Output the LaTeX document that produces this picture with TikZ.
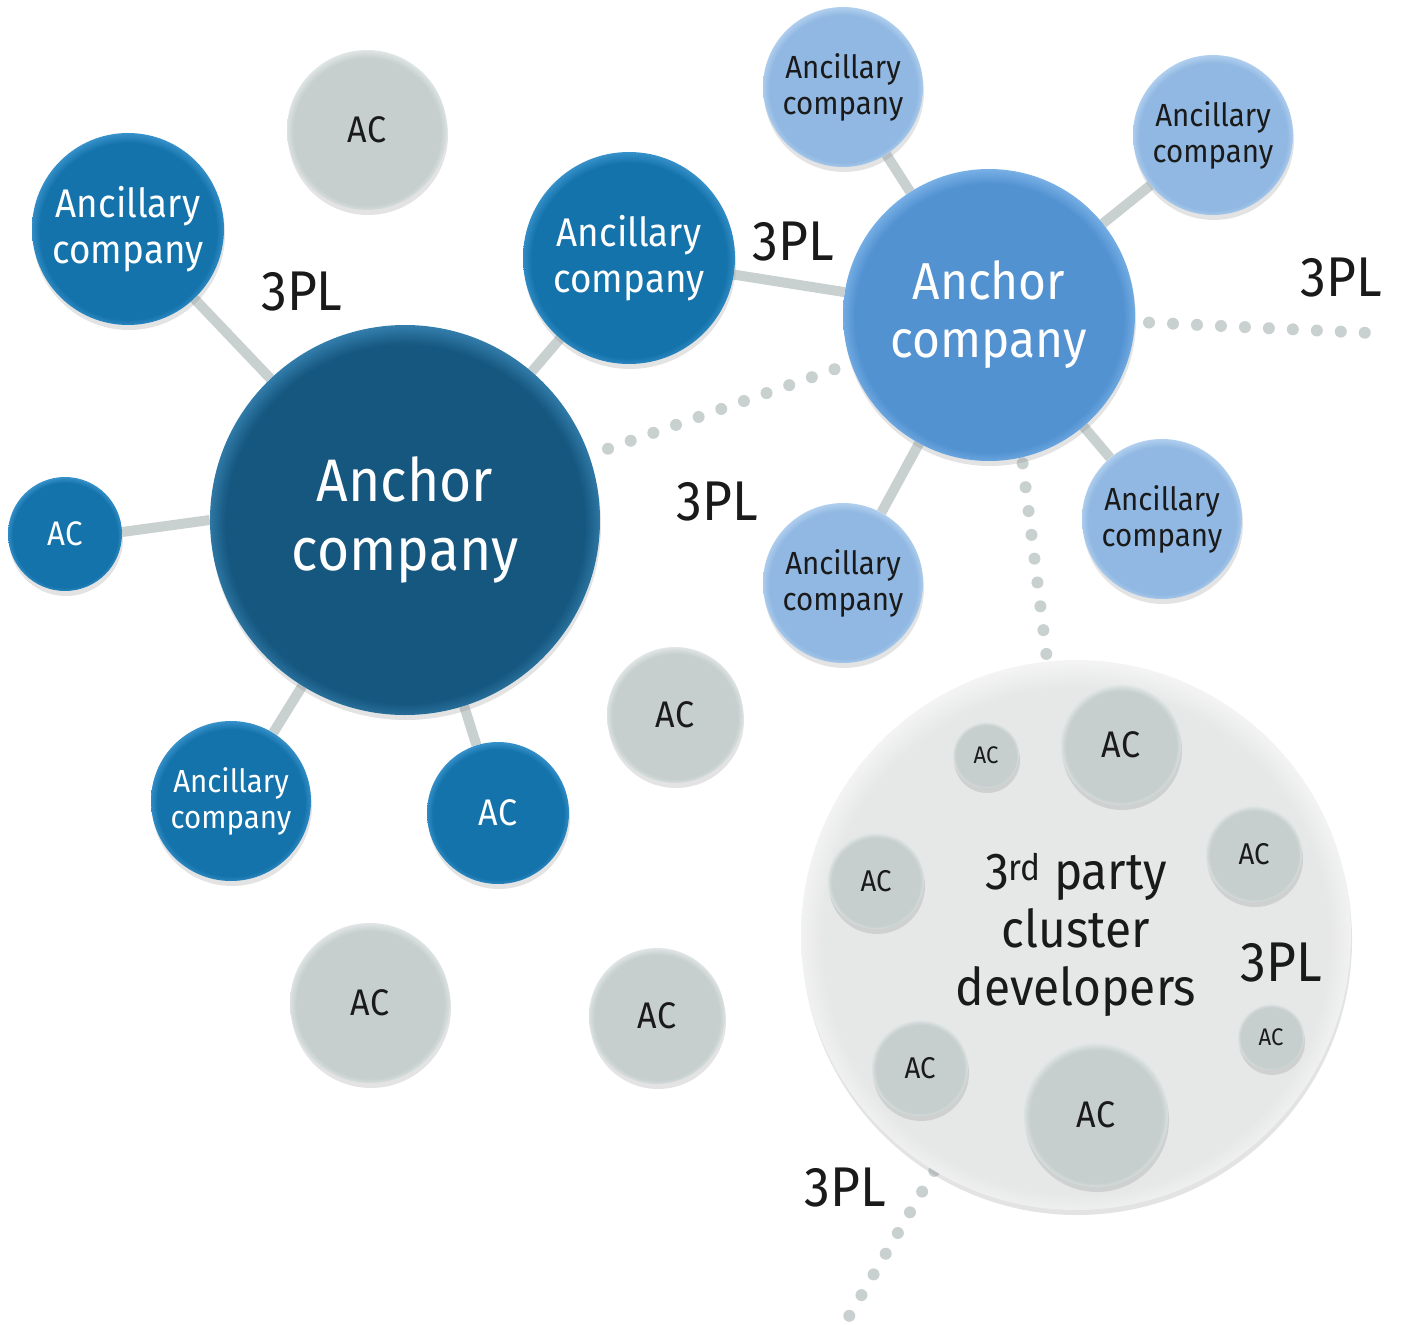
\documentclass[tikz,border=0pt]{standalone}
\usepackage{fontspec}
\setmainfont{Fira Sans}[FakeStretch=0.92]
\usetikzlibrary{shadows,backgrounds}

\definecolor{txt}{HTML}{1A1A1A}
\definecolor{lnk}{HTML}{C9D1D0}
\definecolor{darkA}{HTML}{15577F}
\definecolor{darkArim}{HTML}{3A86B6}
\definecolor{darkB}{HTML}{1573AB}
\definecolor{darkBrim}{HTML}{3E97D0}
\definecolor{lightA}{HTML}{5292D1}
\definecolor{lightArim}{HTML}{80B6EA}
\definecolor{lightB}{HTML}{90B8E2}
\definecolor{lightBrim}{HTML}{B8D4F1}
\definecolor{greyA}{HTML}{C6CECE}
\definecolor{greyArim}{HTML}{E6EAEA}
\definecolor{clus}{HTML}{E6E7E7}
\definecolor{clusrim}{HTML}{F7F7F7}

\newcommand\rim[3]{\pgfdeclareradialshading{#1}{\pgfpoint{0bp}{-1bp}}{color(0bp)=(#2); color(23bp)=(#2); color(26bp)=(#3); color(50bp)=(#3)}}
\rim{shDarkA}{darkA}{darkArim}
\rim{shDarkB}{darkB}{darkBrim}
\rim{shLightA}{lightA}{lightArim}
\rim{shLightB}{lightB}{lightBrim}
\rim{shGrey}{greyA}{greyArim}
\rim{shClus}{clus}{clusrim}
\newcommand\fsz[2]{\fontsize{#1}{#2}\selectfont}

\begin{document}
\begin{tikzpicture}[x=1pt,y=1pt,
  ball/.style={circle, inner sep=0pt, align=center, shade,
    drop shadow={opacity=0.22, shadow xshift=1pt, shadow yshift=-5pt}},
  anchorDark/.style={ball, shading=shDarkA, text=white, minimum size=390pt, font=\fsz{60}{69}},
  ancilDark/.style={ball, shading=shDarkB, text=white, minimum size=192pt, font=\fsz{40}{46}},
  anchorLight/.style={ball, shading=shLightA, text=white, minimum size=292pt, font=\fsz{52}{58}},
  ancilLight/.style={ball, shading=shLightB, text=txt, minimum size=160pt, font=\fsz{32}{36}},
  acgrey/.style={ball, shading=shGrey, text=txt, minimum size=160pt, font=\fsz{37}{40}},
  link/.style={draw=lnk, line width=10pt},
  dots/.style={draw=lnk, line width=12pt, line cap=round, dash pattern=on 0pt off 24pt},
  pl/.style={text=txt, font=\fsz{56}{60}}]
\useasboundingbox (0,0) rectangle (1414,-1325);

% left cluster
\node[anchorDark] (ancL) at (405,-520) {Anchor\\company};
\node[ancilDark] (ancilTL) at (128,-229) {Ancillary\\company};
\node[ancilDark, minimum size=212pt] (ancilTM) at (629,-258) {Ancillary\\company};
\node[ancilDark, minimum size=114pt, font=\fsz{34}{40}] (acL) at (65,-534) {AC};
\node[ancilDark, minimum size=160pt, font=\fsz{32}{36}] (ancilBL) at (231,-801) {Ancillary\\company};
\node[ancilDark, minimum size=142pt, font=\fsz{37}{40}] (acB) at (498,-813) {AC};

% right cluster
\node[anchorLight] (ancR) at (989,-315) {Anchor\\company};
\node[ancilLight] (ancilN) at (843,-87) {Ancillary\\company};
\node[ancilLight] (ancilNE) at (1213,-135) {Ancillary\\company};
\node[ancilLight] (ancilSE) at (1162,-519) {Ancillary\\company};
\node[ancilLight] (ancilS) at (843,-583) {Ancillary\\company};

% loose ACs
\node[acgrey] (acT) at (367,-130) {AC};
\node[acgrey, minimum size=136pt] (acM) at (675,-715) {AC};
\node[acgrey] (acBL) at (370,-1003) {AC};
\node[acgrey, minimum size=136pt] (acBM) at (657,-1016) {AC};

% 3rd party cluster
\node[ball, shading=shClus, minimum size=550pt, text=txt, font=\fsz{52}{58}] (clus) at (1076,-935) {3\textsuperscript{rd} party\\cluster\\developers};
\node[acgrey, minimum size=66pt, font=\fsz{24}{26}] (cac1) at (986,-755) {AC};
\node[acgrey, minimum size=120pt] (cac2) at (1121,-745) {AC};
\node[acgrey, minimum size=96pt, font=\fsz{30}{32}] (cac3) at (1254,-854) {AC};
\node[acgrey, minimum size=96pt, font=\fsz{30}{32}] (cac4) at (876,-881) {AC};
\node[acgrey, minimum size=66pt, font=\fsz{24}{26}] (cac5) at (1271,-1037) {AC};
\node[acgrey, minimum size=96pt, font=\fsz{30}{32}] (cac6) at (920,-1068) {AC};
\node[acgrey, minimum size=144pt] (cac7) at (1096,-1115) {AC};

% 3PL labels
\node[pl] (pl1) at (302,-292) {3PL};
\node[pl] (pl2) at (793,-242) {3PL};
\node[pl] (pl3) at (1341,-278) {3PL};
\node[pl] (pl4) at (717,-502) {3PL};
\node[pl] (pl5) at (1281,-963) {3PL};
\node[pl] (pl6) at (845,-1188) {3PL};

\coordinate (dotE) at (1370,-333);
\coordinate (dotS) at (848,-1318);

\begin{scope}[on background layer]
\draw[link] (ancL) -- (ancilTL);
\draw[link] (acL.2) -- (ancL.180);
\draw[link] (ancL) -- (ancilBL);
\draw[link] (ancL) -- (acB);
\draw[link] (ancL) -- (ancilTM);
\draw[link] (ancilTM) -- (ancR);
\draw[link] (ancR) -- (ancilN);
\draw[link] (ancR) -- (ancilNE);
\draw[link] (ancR) -- (ancilSE);
\draw[link] (ancR) -- (ancilS);
\draw[dots, shorten <=20pt, shorten >=14pt] (ancL) -- (ancR);
\draw[dots, shorten <=14pt] (ancR) -- (dotE);
\draw[dots, shorten <=6pt] (ancR.-77) -- (clus.96);
\draw[dots] (clus.239) -- (dotS);
\end{scope}
\end{tikzpicture}
\end{document}
